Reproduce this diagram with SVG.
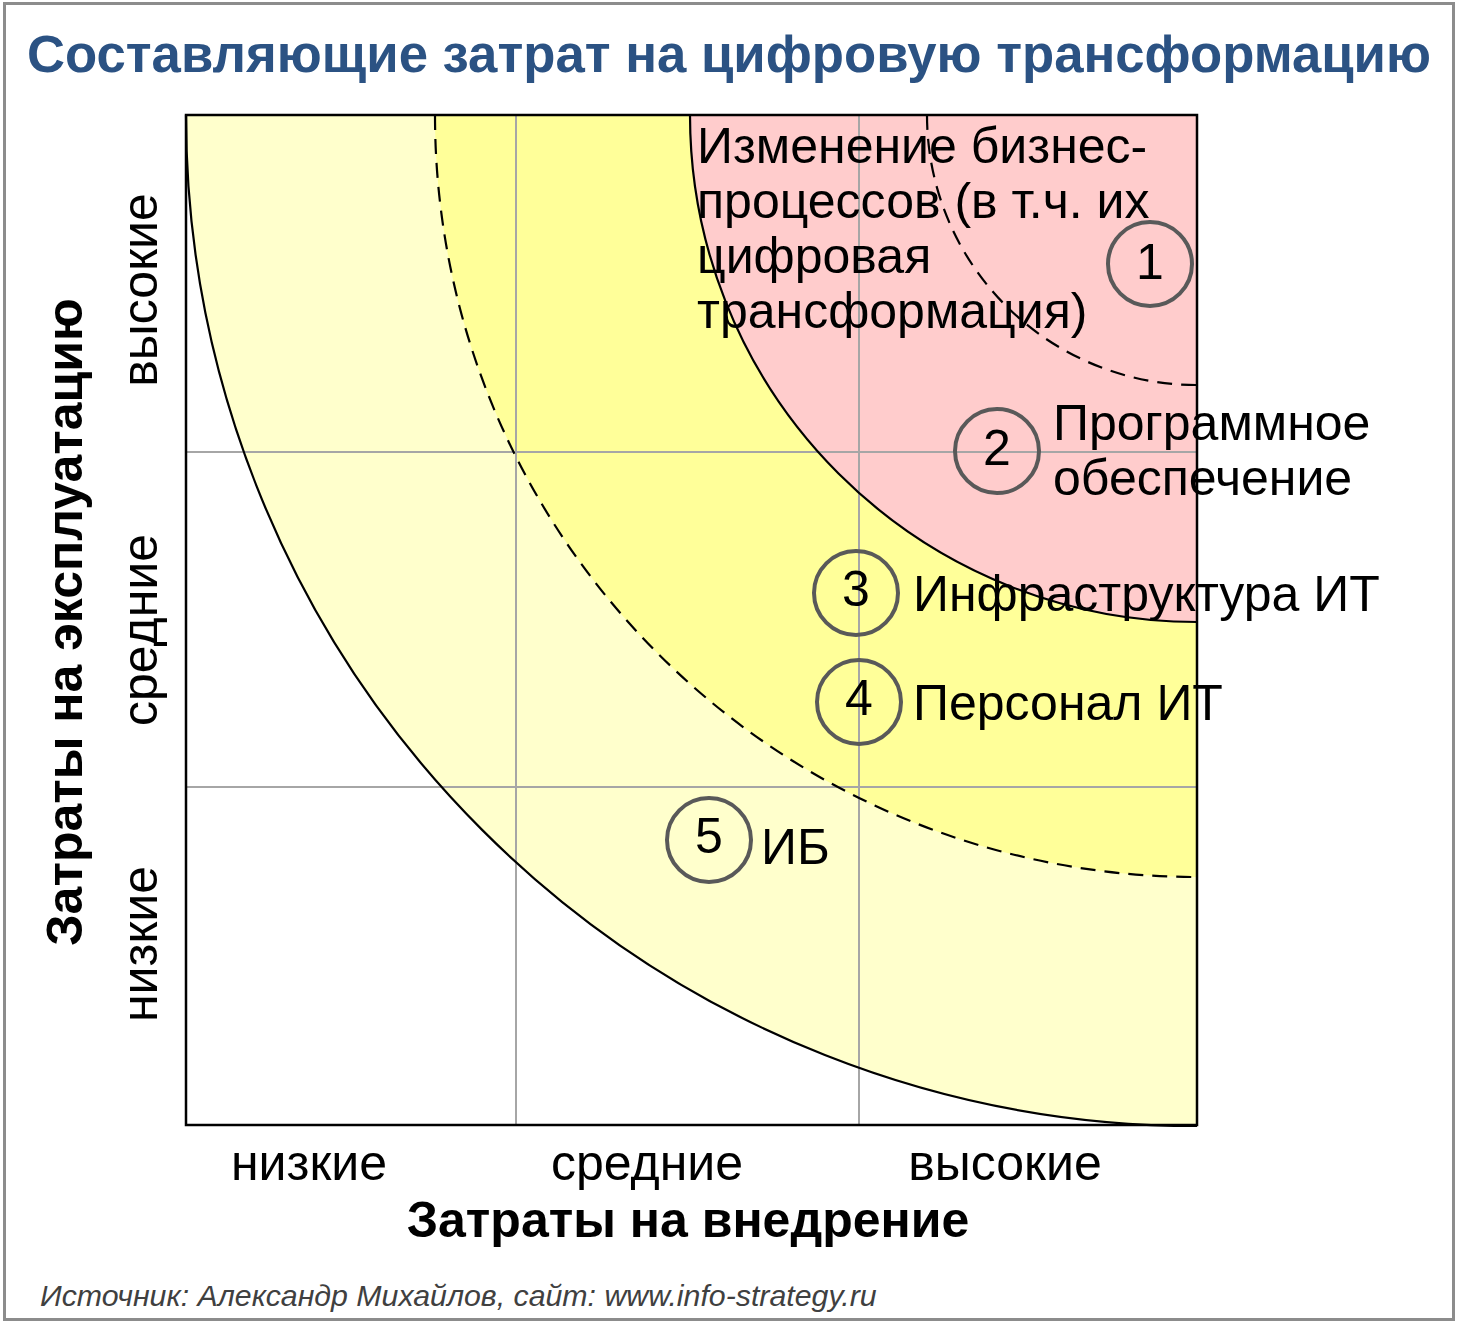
<svg xmlns="http://www.w3.org/2000/svg" width="1458" height="1329" viewBox="0 0 1458 1329">
<style>
.t{font-family:"Liberation Sans",Arial,sans-serif;fill:#000}
.lbl{font-size:50px}
.num{font-size:50px;text-anchor:middle}
.ax{font-size:50px;text-anchor:middle}
.axb{font-size:50px;font-weight:bold;text-anchor:middle}
.grid{stroke:#A6A6A6;stroke-width:2;fill:none}
.arc{stroke:#000;stroke-width:2.2;fill:none}
.dash{stroke-dasharray:15,9}
.circ{fill:none;stroke:#595959;stroke-width:4}
</style>
<rect x="0" y="0" width="1458" height="1329" fill="#fff"/>
<rect x="4.5" y="3.5" width="1449" height="1316" fill="#fff" stroke="#8C8C8C" stroke-width="3"/>
<text id="title" class="t" x="729" y="72" font-size="52.7" font-weight="bold" style="fill:#2B5283" text-anchor="middle">Составляющие затрат на цифровую трансформацию</text>
<g id="zones">
<path d="M1197,115 L186,115 A1011,1011 0 0 0 1197,1126 Z" fill="#FFFFCC"/>
<path d="M1197,115 L435,115 A762,762 0 0 0 1197,877 Z" fill="#FFFF99"/>
<path d="M1197,115 L690,115 A507,507 0 0 0 1197,622 Z" fill="#FFCCCC"/>
</g>
<g id="grid">
<line class="grid" x1="516" y1="115" x2="516" y2="1125"/>
<line class="grid" x1="859" y1="115" x2="859" y2="1125"/>
<line class="grid" x1="186" y1="452" x2="1197" y2="452"/>
<line class="grid" x1="186" y1="787" x2="1197" y2="787"/>
</g>
<g id="arcs">
<path class="arc" d="M186,115 A1011,1011 0 0 0 1197,1126"/>
<path class="arc dash" d="M435,115 A762,762 0 0 0 1197,877"/>
<path class="arc" d="M690,115 A507,507 0 0 0 1197,622"/>
<path class="arc dash" d="M927,115 A270,270 0 0 0 1197,385"/>
</g>
<rect id="frame" x="186" y="115" width="1011" height="1010" fill="none" stroke="#000" stroke-width="2.5"/>
<g id="node1">
<text class="t lbl" x="697" y="163">Изменение бизнес-</text>
<text class="t lbl" x="697" y="218">процессов (в т.ч. их</text>
<text class="t lbl" x="697" y="273">цифровая</text>
<text class="t lbl" x="697" y="328">трансформация)</text>
<circle class="circ" cx="1150" cy="264" r="42"/>
<text class="t num" x="1150" y="279">1</text>
</g>
<g id="node2">
<circle class="circ" cx="997" cy="451" r="42"/>
<text class="t num" x="997" y="465">2</text>
<text class="t lbl" x="1053" y="440">Программное</text>
<text class="t lbl" x="1053" y="495">обеспечение</text>
</g>
<g id="node3">
<circle class="circ" cx="856" cy="593" r="42"/>
<text class="t num" x="856" y="606">3</text>
<text class="t lbl" x="913" y="611">Инфраструктура ИТ</text>
</g>
<g id="node4">
<circle class="circ" cx="859" cy="702" r="42"/>
<text class="t num" x="859" y="715">4</text>
<text class="t lbl" x="913" y="720">Персонал ИТ</text>
</g>
<g id="node5">
<circle class="circ" cx="709" cy="840" r="42"/>
<text class="t num" x="709" y="853">5</text>
<text class="t lbl" x="761" y="864">ИБ</text>
</g>
<g id="yaxis">
<text class="t ax" transform="translate(157,290) rotate(-90)">высокие</text>
<text class="t ax" transform="translate(157,630) rotate(-90)">средние</text>
<text class="t ax" transform="translate(157,944) rotate(-90)">низкие</text>
<text class="t axb" transform="translate(82,622) rotate(-90)">Затраты на эксплуатацию</text>
</g>
<g id="xaxis">
<text class="t ax" x="309" y="1180">низкие</text>
<text class="t ax" x="647" y="1180">средние</text>
<text class="t ax" x="1005" y="1180">высокие</text>
<text class="t axb" x="688" y="1237">Затраты на внедрение</text>
</g>
<text id="source" class="t" x="40" y="1306" font-size="30.3" font-style="italic" style="fill:#404040">Источник: Александр Михайлов, сайт: www.info-strategy.ru</text>
</svg>
